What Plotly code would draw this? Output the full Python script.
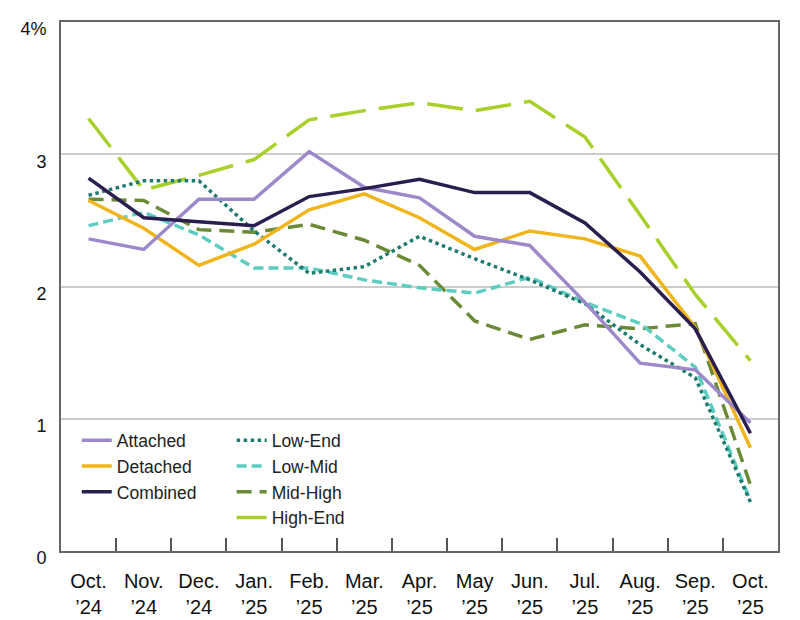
import plotly.graph_objects as go

months = ["Oct.<br>’24", "Nov.<br>’24", "Dec.<br>’24", "Jan.<br>’25", "Feb.<br>’25", "Mar.<br>’25",
          "Apr.<br>’25", "May<br>’25", "Jun.<br>’25", "Jul.<br>’25", "Aug.<br>’25", "Sep.<br>’25", "Oct.<br>’25"]

attached = [2.36, 2.28, 2.66, 2.66, 3.02, 2.75, 2.67, 2.38, 2.31, 1.88, 1.42, 1.37, 0.97]
detached = [2.65, 2.44, 2.16, 2.32, 2.58, 2.70, 2.52, 2.28, 2.42, 2.36, 2.23, 1.69, 0.78]
combined = [2.82, 2.52, 2.49, 2.46, 2.68, 2.74, 2.81, 2.71, 2.71, 2.48, 2.11, 1.68, 0.89]
low_end = [2.69, 2.80, 2.80, 2.42, 2.10, 2.15, 2.38, 2.21, 2.05, 1.87, 1.56, 1.31, 0.37]
low_mid = [2.46, 2.56, 2.39, 2.14, 2.14, 2.05, 1.99, 1.95, 2.07, 1.88, 1.72, 1.39, 0.38]
mid_high = [2.66, 2.65, 2.43, 2.41, 2.47, 2.35, 2.16, 1.74, 1.60, 1.71, 1.68, 1.72, 0.50]
high_end = [3.27, 2.73, 2.84, 2.96, 3.26, 3.33, 3.39, 3.33, 3.40, 3.13, 2.54, 1.94, 1.44]

y_ticks = [0, 1, 2, 3, 4]
y_tick_text = ["0", "1", "2", "3", "4%"]

FONT = "Liberation Sans, Arial, Helvetica, sans-serif"

# name, values, colour, dash, legend, legend rank, draw order (z)
series = [
    ("Attached", attached, "#9d88c9", "solid", "legend", 1, 5),
    ("Detached", detached, "#f0b51b", "solid", "legend", 2, 4),
    ("Combined", combined, "#2a1e4e", "solid", "legend", 3, 6),
    ("Low-End", low_end, "#1e7b6f", "dot", "legend2", 4, 3),
    ("Low-Mid", low_mid, "#5ccdc0", "10px,5px", "legend2", 5, 2),
    ("Mid-High", mid_high, "#6b8a35", "15px,8px", "legend2", 6, 1),
    ("High-End", high_end, "#a8d02a", "36px,13px", "legend2", 7, 0),
]

fig = go.Figure()
for name, vals, color, dash, leg, rank, z in sorted(series, key=lambda s: s[6]):
    fig.add_trace(go.Scatter(
        x=months, y=vals, name=name, mode="lines",
        line=dict(color=color, width=3.5, dash=dash),
        legend=leg, legendrank=rank,
    ))

leg_common = dict(yanchor="top", xanchor="left", bgcolor="rgba(0,0,0,0)",
                  font=dict(size=17.5, color="#222"), tracegroupgap=0, itemwidth=30)

fig.update_layout(
    width=800, height=620,
    margin=dict(l=61, r=22, t=22, b=69),
    paper_bgcolor="white", plot_bgcolor="white",
    font=dict(family=FONT, size=19, color="#111"),
    showlegend=True,
    legend=dict(x=0.022, y=0.243, **leg_common),
    legend2=dict(x=0.238, y=0.243, **leg_common),
    xaxis=dict(
        type="category", categoryorder="array", categoryarray=months,
        range=[-0.5, 12.5], automargin=False,
        tickson="boundaries", ticks="inside", ticklen=13, tickwidth=1.5, tickcolor="#555",
        showline=True, linecolor="#666", linewidth=2, mirror=True,
        showgrid=False, tickfont=dict(size=20, color="#111"),
        ticklabelstandoff=11,
    ),
    yaxis=dict(
        range=[0, 4], tickvals=y_ticks, ticktext=y_tick_text, automargin=False,
        showgrid=True, gridcolor="#cccccc", gridwidth=1.5,
        showline=True, linecolor="#666", linewidth=2, mirror=True,
        ticks="", ticklabelstandoff=9, ticklabelshift=7,
        tickfont=dict(size=18, color="#111"), zeroline=False,
    ),
)

fig.write_html("out.html")
